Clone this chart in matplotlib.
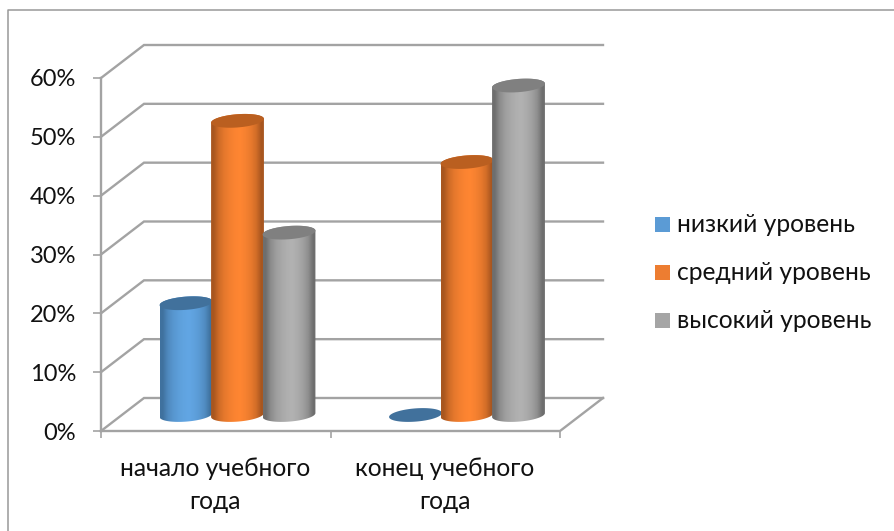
import numpy as np
import matplotlib
matplotlib.use("Agg")
import matplotlib.pyplot as plt
from matplotlib.lines import Line2D
from matplotlib.patches import Polygon, Rectangle
from matplotlib.colors import LinearSegmentedColormap

categories = ["начало учебного\nгода", "конец учебного\nгода"]
series_names = ["низкий уровень", "средний уровень", "высокий уровень"]
low_level = [19, 0]
mid_level = [50, 43]
high_level = [31, 56]
y_ticks = [0, 10, 20, 30, 40, 50, 60]
y_tick_labels = ["0%", "10%", "20%", "30%", "40%", "50%", "60%"]

W, H = 894, 531
plt.rcParams['font.family'] = ['Lato', 'Open Sans', 'DejaVu Sans']
FS = 17.7

# main colour, dark edge, ellipse top
styles = [("#62A6E4", "#3F719E", "#41719C"),
          ("#FF8632", "#A8561F", "#BA5F20"),
          ("#B2B2B2", "#6E6E6E", "#808080")]
legend_colors = ["#5B9BD5", "#ED7D31", "#A5A5A5"]
grid_color = "#A3A3A3"

fig = plt.figure(figsize=(W / 100, H / 100), dpi=100)

# outer frame, only left and top show in the picture
fig.add_artist(Line2D([7.5 / W, 7.5 / W, 1], [0, 1 - 9.5 / H, 1 - 9.5 / H], color="#999999", lw=1.1))

# axes sit on the front plane of the 3d box
left, right, bottom, top = 101, 560, 431, 78
ax = fig.add_axes([left / W, 1 - bottom / H, (right - left) / W, (bottom - top) / H])
ax.patch.set_alpha(0)
for s in ax.spines.values():
    s.set_visible(False)

px_x = 2 / (right - left)
px_y = 60 / (bottom - top)
depth_x = 43 * px_x
depth_y = 33 * px_y

# walls and floor
for t in y_ticks:
    ax.plot([0, depth_x, 2 + depth_x], [t, t + depth_y, t + depth_y], color=grid_color, lw=1.7,
            clip_on=False, zorder=1, solid_joinstyle="miter")
ax.plot([0, 0], [0, 60], color=grid_color, lw=1.7, clip_on=False, zorder=1)
ax.plot([0, 2, 2 + depth_x], [0, 0, depth_y], color=grid_color, lw=1.7, clip_on=False, zorder=1)

ax.set_yticks(y_ticks)
ax.set_yticklabels(y_tick_labels, fontsize=17, color="#111111")
ax.set_xticks([0, 1, 2])
ax.set_xticklabels([])
ax.tick_params(axis="y", length=5.8, width=1.2, color=grid_color, pad=12)
ax.tick_params(axis="x", length=5, width=1.2, color=grid_color)
for i, c in enumerate(categories):
    ax.text(i + 0.5 - 0.002, -4.45, c, ha="center", va="top", fontsize=FS, color="#111111",
            linespacing=1.5)

# cylinders: gradient image clipped to the outline, tilted ellipse on top
shade = np.array([0.0, 0.45, 0.7, 0.85, 0.95, 1.0, 0.9, 0.75, 0.5, 0.0])
bar_w = 53 * px_x
step = 51.5 * px_x
first = 58.5 * px_x
semi_a, semi_b = 26.5, 6.6
tilt = np.deg2rad(4.5)
base_y = 16 * px_y  # base centre, half way into the floor


def tilted_ellipse(cx, cy, t):
    dx = semi_a * np.cos(t) * np.cos(tilt) - semi_b * np.sin(t) * np.sin(tilt)
    dy = semi_a * np.cos(t) * np.sin(tilt) + semi_b * np.sin(t) * np.cos(tilt)
    return np.column_stack([cx + dx * px_x, cy + dy * px_y])


lower = np.linspace(np.pi, 2 * np.pi, 60)
upper = np.linspace(0, np.pi, 60)
whole = np.linspace(0, 2 * np.pi, 120)
z = 3
for g in range(2):
    vals = [low_level[g], mid_level[g], high_level[g]]
    for k, v in enumerate(vals):
        x0 = g + first + k * step
        cx = x0 + bar_w / 2
        main, dark, top_c = styles[k]
        cm = LinearSegmentedColormap.from_list("c", [dark, main])
        if v > 0:
            outline = np.vstack([tilted_ellipse(cx, base_y, lower),
                                 tilted_ellipse(cx, base_y + v, upper)])
            im = ax.imshow(shade[None, :], cmap=cm, aspect="auto", interpolation="bilinear",
                           extent=[x0, x0 + bar_w, base_y - 10 * px_y, base_y + v + 10 * px_y],
                           zorder=z + 0.1, vmin=0, vmax=1)
            im.set_clip_path(Polygon(outline, transform=ax.transData))
        ax.add_patch(Polygon(tilted_ellipse(cx, base_y + v, whole), fc=top_c, ec="none",
                             zorder=z + 0.2, clip_on=False))
        z += 1

ax.set_xlim(0, 2)
ax.set_ylim(0, 60)

# legend by hand so the squares land where they do in the picture
leg_y = [224.5, 272.5, 320.5]
for name, col, y in zip(series_names, legend_colors, leg_y):
    fig.add_artist(Rectangle((655 / W, 1 - (y + 7.5) / H), 15 / W, 15 / H, transform=fig.transFigure,
                             fc=col, ec="none"))
    fig.text(677 / W, 1 - y / H, name, fontsize=FS, va="center", ha="left", color="#111111")

fig.savefig("out.png", dpi=100)
